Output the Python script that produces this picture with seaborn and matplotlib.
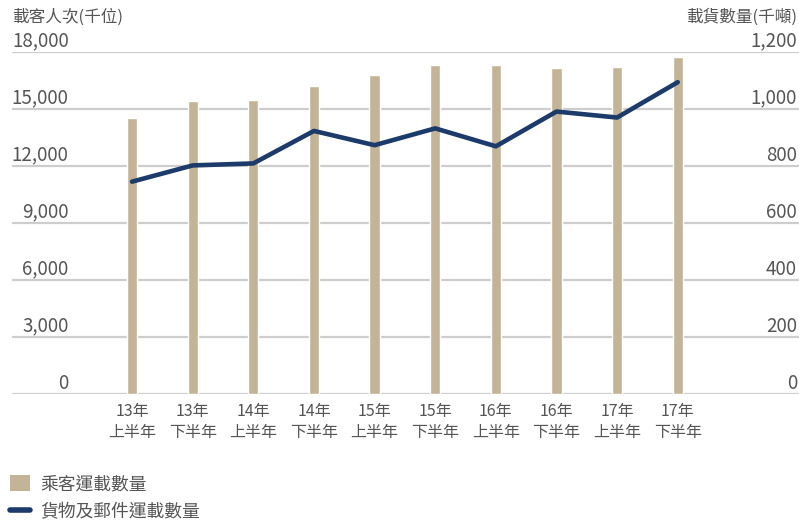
import matplotlib
matplotlib.use("Agg")
import matplotlib.pyplot as plt
import seaborn as sns
import pandas as pd
from matplotlib.patches import Patch
from matplotlib.lines import Line2D

categories = ["13年\n上半年", "13年\n下半年", "14年\n上半年", "14年\n下半年", "15年\n上半年",
              "15年\n下半年", "16年\n上半年", "16年\n下半年", "17年\n上半年", "17年\n下半年"]
passengers = [14530, 15430, 15480, 16170, 16800, 17290, 17290, 17120, 17190, 17700]
cargo = [744, 801, 808, 922, 872, 931, 868, 990, 969, 1093]
left_ticks = [0, 3000, 6000, 9000, 12000, 15000, 18000]
left_labels = ["0", "3,000", "6,000", "9,000", "12,000", "15,000", "18,000"]
right_ticks = [0, 200, 400, 600, 800, 1000, 1200]
right_labels = ["0", "200", "400", "600", "800", "1,000", "1,200"]
left_title = "載客人次(千位)"
right_title = "載貨數量(千噸)"
legend_labels = ["乘客運載數量", "貨物及郵件運載數量"]

BAR = "#C3B497"
NAVY = "#1C3A6A"
TXT = "#555555"
GRID = "#CDCDCD"

sns.set_theme(style="white")
plt.rcParams["font.family"] = ["Noto Sans CJK TC", "DejaVu Sans"]

fig = plt.figure(figsize=(7.99, 5.2), dpi=100)
ax = fig.add_axes([12 / 799, 1 - 393.7 / 520, 787 / 799, (393.7 - 51.7) / 520])

df = pd.DataFrame({"cat": categories, "pax": passengers, "cargo": cargo, "pos": range(len(categories))})
sns.barplot(data=df, x="cat", y="pax", ax=ax, color=BAR, width=0.17, saturation=1)
ax.set_xlim(-1.98, 11.0)
ax.set_ylim(0, 18000)
ax.set_xlabel("")
ax.set_ylabel("")
ax.set_yticks(left_ticks)
ax.set_yticklabels(left_labels)
ax.yaxis.grid(True, color=GRID, lw=1.6)
ax.xaxis.grid(False)
ax.set_axisbelow(True)
for s in ax.spines.values():
    s.set_visible(False)
ax.tick_params(axis="y", length=0, pad=-40.8, labelsize=13.5, labelcolor=TXT)
for t in ax.get_yticklabels():
    t.set_verticalalignment("bottom")
ax.tick_params(axis="x", length=0, pad=7, labelsize=11.5, labelcolor=TXT)
for t in ax.get_xticklabels():
    t.set_linespacing(1.3)

ax2 = ax.twinx()
sns.lineplot(data=df, x="pos", y="cargo", ax=ax2, color=NAVY, lw=3.3,
             solid_capstyle="round", solid_joinstyle="round")
ax2.set_xlim(-1.98, 11.0)
ax2.set_ylim(0, 1200)
ax2.set_ylabel("")
ax2.set_xlabel("")
ax2.set_yticks(right_ticks)
ax2.set_yticklabels(right_labels)
ax2.grid(False)
for s in ax2.spines.values():
    s.set_visible(False)
ax2.tick_params(axis="y", length=0, pad=-1.5, labelsize=13.5, labelcolor=TXT)
for t in ax2.get_yticklabels():
    t.set_verticalalignment("bottom")
    t.set_horizontalalignment("right")

fig.text(12 / 799, 1 - 17 / 520, left_title, ha="left", va="center", fontsize=12, color=TXT)
fig.text(797 / 799, 1 - 17 / 520, right_title, ha="right", va="center", fontsize=12, color=TXT)

handles = [Patch(facecolor=BAR, edgecolor="none"),
           Line2D([], [], color=NAVY, lw=4, solid_capstyle="round")]
fig.legend(handles, legend_labels, loc="upper left", bbox_to_anchor=(0.003, 1 - 468 / 520),
           frameon=False, fontsize=12.8, labelcolor=TXT, handlelength=1.15, handleheight=0.95,
           handletextpad=0.6, labelspacing=0.55, borderaxespad=0.0)

fig.savefig("out.png", dpi=100)
